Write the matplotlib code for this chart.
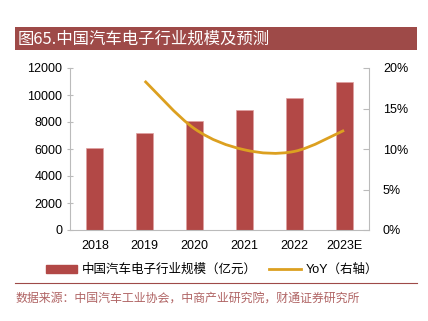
import numpy as np
import matplotlib
matplotlib.use('Agg')
import matplotlib.pyplot as plt
from matplotlib.path import Path
from matplotlib.patches import PathPatch, Rectangle
from matplotlib.lines import Line2D

plt.rcParams['font.family'] = ['Liberation Sans', 'Noto Sans CJK SC', 'DejaVu Sans']

years = ["2018", "2019", "2020", "2021", "2022", "2023E"]
scale = [6100, 7200, 8100, 8900, 9800, 11000]   # 亿元
yoy = [None, 18.4, 12.5, 9.9, 9.7, 12.3]          # %

bar_color = '#b24846'
line_color = '#dca020'
frame_color = '#9e4a48'

fig = plt.figure(figsize=(4.28, 3.21), dpi=100)

# title band
fig.patches.append(Rectangle((15/428, 1-50/321), 402/428, 23/321, transform=fig.transFigure,
                             facecolor=frame_color, edgecolor='none'))
fig.text(18/428, 1-39/321, "图65.中国汽车电子行业规模及预测", color='white', fontsize=11.8,
         va='center', ha='left', family=['Noto Sans CJK SC'])

ax = fig.add_axes([70/428, 1-230/321, 299/428, 162/321])
x = np.arange(len(years))
ax.bar(x, scale, width=0.34, color=bar_color, edgecolor='#e0a0a0', linewidth=0.5, zorder=2)
ax.set_xlim(-0.5, len(years)-0.5)
ax.set_ylim(0, 12000)
ax.set_yticks(range(0, 12001, 2000))
ax.set_xticks(x)
ax.set_xticklabels(years)
for s in ['top', 'right']:
    ax.spines[s].set_visible(False)
ax.spines['left'].set_color('#bbbbbb')
ax.spines['bottom'].set_color('#bbbbbb')
ax.tick_params(axis='y', direction='inout', length=5, color='#bbbbbb', labelsize=9, pad=3)
ax.tick_params(axis='x', length=0, labelsize=9, pad=7)

ax2 = ax.twinx()
ax2.set_ylim(0, 20)
ax2.set_yticks(range(0, 21, 5))
ax2.set_yticklabels([f"{v}%" for v in range(0, 21, 5)])
for s in ['top', 'left', 'bottom']:
    ax2.spines[s].set_visible(False)
ax2.spines['right'].set_color('#bbbbbb')
ax2.tick_params(axis='y', direction='in', length=4, color='#bbbbbb', labelsize=9, pad=10)

# smoothed YoY line (cubic bezier through the points)
px = [xi for xi, v in zip(x, yoy) if v is not None]
py = [v for v in yoy if v is not None]
verts = [(px[0], py[0])]
codes = [Path.MOVETO]
n = len(px)
for i in range(n-1):
    p0 = (px[max(i-1, 0)], py[max(i-1, 0)])
    p1 = (px[i], py[i])
    p2 = (px[i+1], py[i+1])
    p3 = (px[min(i+2, n-1)], py[min(i+2, n-1)])
    c1 = (p1[0] + (p2[0]-p0[0])/6, p1[1] + (p2[1]-p0[1])/6)
    c2 = (p2[0] - (p3[0]-p1[0])/6, p2[1] - (p3[1]-p1[1])/6)
    verts += [c1, c2, p2]
    codes += [Path.CURVE4]*3
ax2.add_patch(PathPatch(Path(verts, codes), facecolor='none', edgecolor=line_color, lw=2, zorder=3))

# legend
fig.legend(handles=[Rectangle((0, 0), 1, 1, color=bar_color), Line2D([], [], color=line_color, lw=2)],
           labels=["中国汽车电子行业规模（亿元）", "YoY（右轴）"], loc='center',
           bbox_to_anchor=(0.495, 1-270/321), ncol=2, frameon=False,
           handlelength=2.5, handleheight=0.6, columnspacing=1.0, handletextpad=0.4,
           prop={'family': ['Liberation Sans', 'Noto Sans CJK SC'], 'size': 9})

fig.lines.append(Line2D([15/428, 417/428], [1-283/321, 1-283/321], transform=fig.transFigure,
                        color=frame_color, lw=0.8))
fig.text(16/428, 1-298/321, "数据来源：中国汽车工业协会，中商产业研究院，财通证券研究所",
         color='#b06464', fontsize=8.6, va='center', ha='left', family=['Noto Sans CJK SC'])

plt.savefig('out.png', dpi=100)
